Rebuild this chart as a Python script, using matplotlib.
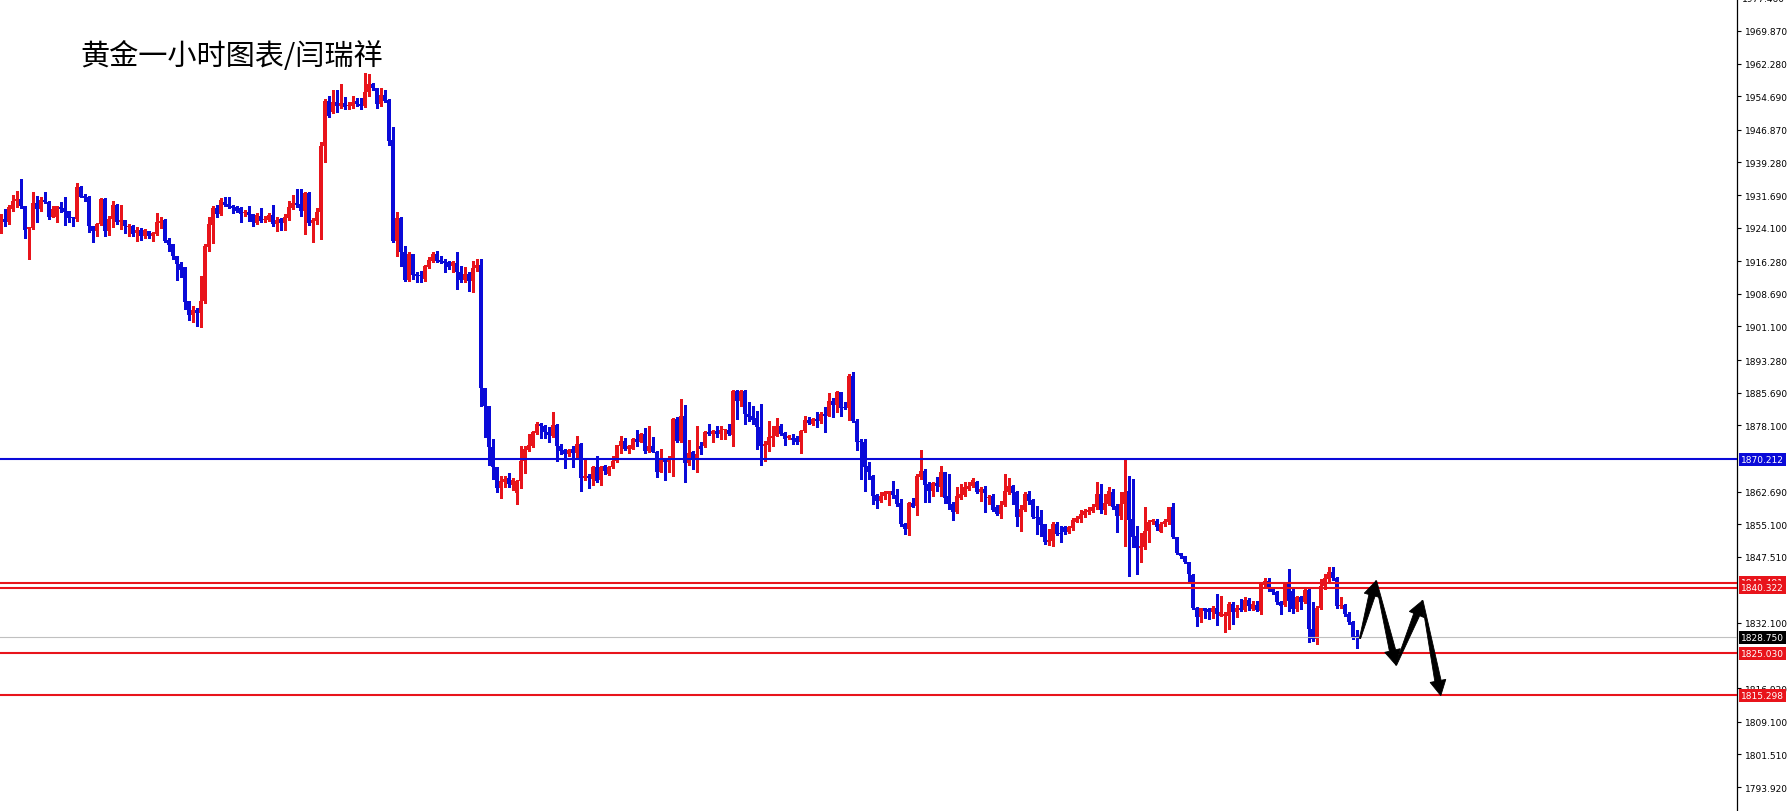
import matplotlib
matplotlib.use("Agg")
import matplotlib.pyplot as plt
import numpy as np
from matplotlib.patches import Polygon

plt.rcParams['font.family'] = ['DejaVu Sans']

# ---------------- data (gold, 1 hour candles) ----------------
opens = [
    1923.5, 1926.1, 1925.5, 1928.4, 1930.2, 1930.8, 1929.1, 1923.8, 1923.9, 1929.8,
    1928.4, 1930.6, 1930.0, 1926.5, 1926.5, 1929.0, 1928.6, 1927.9, 1926.6, 1926.1,
    1933.5, 1931.4, 1931.2, 1924.4, 1923.2, 1924.9, 1930.8, 1923.2, 1926.1, 1929.4,
    1925.3, 1925.9, 1924.3, 1924.5, 1922.8, 1923.6, 1922.1, 1923.2, 1922.1, 1922.6,
    1925.2, 1925.9, 1921.3, 1920.3, 1917.4, 1915.6, 1914.9, 1907.1, 1903.8, 1904.9,
    1904.2, 1907.1, 1919.7, 1924.7, 1928.6, 1927.3, 1930.0, 1929.6, 1929.1, 1928.8,
    1928.6, 1927.5, 1927.8, 1927.3, 1925.2, 1926.7, 1925.8, 1925.9, 1927.0, 1924.9,
    1926.1, 1925.1, 1926.3, 1928.7, 1929.8, 1929.6, 1928.0, 1932.2, 1925.2, 1925.7,
    1927.8, 1943.0, 1953.6, 1950.9, 1953.3, 1952.5, 1953.1, 1952.3, 1952.5, 1953.6,
    1952.9, 1952.3, 1955.6, 1957.5, 1956.5, 1952.9, 1955.0, 1953.9, 1944.6, 1921.1,
    1926.3, 1918.5, 1912.0, 1918.0, 1913.3, 1912.9, 1912.1, 1914.9, 1916.4, 1918.0,
    1916.6, 1916.4, 1916.2, 1915.1, 1915.9, 1913.8, 1912.0, 1913.3, 1911.7, 1914.7,
    1915.4, 1886.7, 1882.7, 1873.0, 1868.3, 1863.4, 1865.0, 1865.8, 1864.2, 1862.4,
    1865.2, 1869.9, 1872.4, 1873.2, 1876.3, 1878.4, 1878.0, 1876.6, 1875.7, 1878.2,
    1873.2, 1872.4, 1871.4, 1872.6, 1871.6, 1873.7, 1865.8, 1866.4, 1865.6, 1868.3,
    1865.4, 1868.6, 1866.8, 1868.3, 1869.9, 1873.4, 1874.5, 1872.6, 1872.7, 1874.9,
    1874.3, 1876.1, 1872.2, 1873.2, 1872.0, 1867.3, 1870.4, 1869.6, 1870.6, 1879.6,
    1874.5, 1880.3, 1869.3, 1871.8, 1870.4, 1873.4, 1873.2, 1876.6, 1876.1, 1876.8,
    1876.1, 1876.9, 1877.1, 1875.8, 1886.1, 1883.8, 1886.1, 1880.7, 1880.2, 1879.7,
    1877.6, 1873.2, 1873.5, 1875.1, 1875.7, 1877.9, 1876.3, 1875.1, 1875.1, 1875.1,
    1874.1, 1876.8, 1879.4, 1878.4, 1879.6, 1879.0, 1880.7, 1880.3, 1883.8, 1882.8,
    1885.8, 1882.3, 1882.1, 1889.6, 1879.2, 1874.3, 1874.1, 1868.6, 1866.4, 1861.9,
    1860.6, 1861.6, 1862.1, 1862.7, 1861.9, 1860.0, 1855.1, 1854.0, 1860.0, 1859.4,
    1866.0, 1867.5, 1864.4, 1862.7, 1864.7, 1863.7, 1867.2, 1861.6, 1859.8, 1858.0,
    1861.3, 1861.9, 1863.3, 1864.0, 1865.0, 1862.5, 1863.3, 1861.2, 1861.6, 1859.0,
    1857.5, 1859.5, 1862.5, 1864.0, 1862.5, 1856.7, 1858.5, 1862.1, 1860.8, 1856.8,
    1856.7, 1855.1, 1851.0, 1851.2, 1855.1, 1853.0, 1854.4, 1853.2, 1854.1, 1855.7,
    1856.3, 1857.2, 1857.9, 1858.2, 1859.0, 1862.1, 1858.5, 1859.8, 1862.5, 1859.4,
    1857.1, 1859.8, 1862.7, 1856.3, 1852.3, 1849.5, 1849.7, 1853.4, 1855.5, 1855.9,
    1853.3, 1855.1, 1855.5, 1859.0, 1852.0, 1848.4, 1847.6, 1846.2, 1843.3, 1835.7,
    1833.4, 1835.5, 1835.3, 1834.6, 1835.7, 1833.8, 1833.7, 1833.8, 1836.5, 1834.7,
    1835.7, 1835.2, 1837.5, 1835.3, 1836.3, 1834.9, 1840.9, 1841.9, 1840.0, 1839.2,
    1837.0, 1836.3, 1841.4, 1839.6, 1835.3, 1838.1, 1836.9, 1839.8, 1830.7, 1828.4,
    1835.7, 1840.6, 1842.3, 1844.0, 1842.5, 1836.0, 1836.3, 1834.2, 1832.4, 1829.1,
]
highs = [
    1927.3, 1928.4, 1929.4, 1931.7, 1932.6, 1935.4, 1929.2, 1924.3, 1932.3, 1931.5,
    1931.2, 1932.3, 1930.4, 1929.1, 1929.2, 1930.0, 1931.2, 1928.0, 1926.6, 1934.6,
    1933.7, 1931.9, 1931.5, 1924.5, 1925.2, 1930.9, 1930.9, 1926.9, 1930.4, 1929.6,
    1929.4, 1925.9, 1924.9, 1924.7, 1924.2, 1923.9, 1923.8, 1923.2, 1923.0, 1927.5,
    1926.5, 1926.1, 1921.8, 1920.3, 1917.4, 1916.0, 1914.9, 1907.1, 1905.9, 1905.3,
    1912.9, 1920.3, 1926.5, 1929.2, 1929.4, 1930.9, 1931.2, 1931.2, 1929.4, 1929.1,
    1928.8, 1928.3, 1929.1, 1927.3, 1927.5, 1928.6, 1926.7, 1927.5, 1929.4, 1926.5,
    1926.3, 1927.3, 1930.4, 1931.7, 1933.2, 1933.1, 1932.3, 1932.3, 1926.3, 1928.6,
    1944.0, 1954.0, 1954.7, 1956.2, 1956.2, 1957.5, 1954.4, 1953.4, 1954.7, 1954.2,
    1954.2, 1960.1, 1959.8, 1957.8, 1956.7, 1956.7, 1956.2, 1954.0, 1947.4, 1927.7,
    1926.5, 1919.9, 1918.4, 1918.0, 1913.7, 1914.1, 1915.4, 1917.2, 1918.5, 1918.7,
    1917.4, 1916.9, 1916.4, 1916.4, 1918.5, 1915.1, 1914.9, 1913.7, 1916.4, 1916.8,
    1916.9, 1886.7, 1882.7, 1874.9, 1868.3, 1866.4, 1866.2, 1867.0, 1865.8, 1865.4,
    1873.2, 1873.2, 1876.1, 1876.8, 1878.8, 1878.6, 1878.2, 1877.6, 1881.1, 1878.4,
    1873.7, 1872.7, 1872.6, 1873.2, 1875.7, 1874.0, 1870.3, 1866.8, 1868.6, 1871.0,
    1868.6, 1868.9, 1868.6, 1870.9, 1873.6, 1875.5, 1875.1, 1873.5, 1875.1, 1877.1,
    1876.3, 1877.4, 1878.0, 1875.3, 1872.2, 1872.7, 1870.6, 1870.9, 1879.7, 1880.0,
    1884.2, 1882.8, 1874.7, 1872.2, 1877.9, 1874.1, 1876.8, 1878.4, 1877.1, 1878.0,
    1878.0, 1877.2, 1878.4, 1886.2, 1886.2, 1886.2, 1886.2, 1883.5, 1882.7, 1881.5,
    1883.1, 1874.5, 1879.2, 1878.0, 1879.7, 1878.4, 1876.5, 1875.8, 1876.1, 1875.5,
    1877.1, 1880.3, 1880.0, 1879.7, 1881.1, 1881.3, 1882.3, 1885.6, 1884.4, 1886.1,
    1885.9, 1883.5, 1890.0, 1890.4, 1879.6, 1874.9, 1874.9, 1869.5, 1866.5, 1862.1,
    1862.5, 1862.9, 1862.9, 1865.2, 1863.3, 1860.9, 1855.3, 1860.2, 1861.1, 1866.8,
    1872.4, 1867.9, 1865.0, 1865.0, 1866.0, 1868.6, 1867.3, 1866.8, 1860.2, 1863.7,
    1864.4, 1864.8, 1865.0, 1865.8, 1865.2, 1863.7, 1864.0, 1861.9, 1862.1, 1859.5,
    1860.6, 1866.8, 1865.8, 1864.2, 1862.9, 1859.5, 1862.5, 1862.9, 1860.9, 1859.4,
    1858.5, 1855.2, 1854.0, 1855.5, 1855.5, 1854.6, 1854.6, 1854.6, 1856.5, 1856.9,
    1858.5, 1858.6, 1859.0, 1859.8, 1865.0, 1864.4, 1862.1, 1863.7, 1863.3, 1859.8,
    1862.5, 1870.1, 1866.2, 1865.6, 1854.6, 1853.0, 1859.0, 1856.1, 1856.3, 1856.3,
    1855.5, 1856.3, 1859.2, 1860.0, 1852.1, 1848.5, 1847.8, 1846.4, 1843.5, 1835.8,
    1835.7, 1835.7, 1835.7, 1836.1, 1838.8, 1838.4, 1834.7, 1836.9, 1836.9, 1836.3,
    1837.7, 1838.1, 1837.8, 1837.3, 1837.3, 1841.7, 1842.5, 1842.5, 1840.4, 1839.6,
    1837.3, 1841.6, 1844.7, 1840.0, 1838.3, 1838.3, 1840.2, 1840.2, 1837.1, 1836.1,
    1842.3, 1843.5, 1845.1, 1845.1, 1842.7, 1838.1, 1836.5, 1834.6, 1832.6, 1830.5,
]
lows = [
    1922.8, 1924.5, 1924.9, 1928.0, 1928.8, 1928.6, 1921.8, 1916.8, 1923.8, 1925.5,
    1928.0, 1929.8, 1926.1, 1926.5, 1925.5, 1927.7, 1924.7, 1925.3, 1924.4, 1925.7,
    1931.2, 1930.4, 1923.0, 1920.7, 1922.2, 1924.7, 1922.1, 1922.4, 1924.2, 1924.9,
    1923.8, 1922.8, 1922.2, 1922.1, 1921.1, 1921.3, 1921.8, 1921.6, 1921.1, 1922.4,
    1924.0, 1920.8, 1918.7, 1916.8, 1912.0, 1912.5, 1905.2, 1902.7, 1902.2, 1901.1,
    1900.9, 1906.6, 1918.6, 1920.5, 1926.5, 1927.0, 1929.1, 1928.6, 1927.5, 1927.7,
    1925.5, 1926.9, 1925.7, 1924.5, 1924.9, 1925.5, 1925.3, 1925.7, 1924.5, 1923.4,
    1923.6, 1923.6, 1925.9, 1928.4, 1928.8, 1926.9, 1922.6, 1924.7, 1920.7, 1924.9,
    1921.5, 1939.3, 1949.8, 1950.8, 1950.9, 1951.9, 1951.7, 1951.7, 1951.9, 1952.5,
    1951.7, 1952.1, 1954.8, 1956.2, 1951.9, 1952.3, 1953.4, 1943.3, 1920.7, 1917.4,
    1915.2, 1911.7, 1911.7, 1912.1, 1911.4, 1911.4, 1911.7, 1914.6, 1916.0, 1916.0,
    1915.9, 1913.7, 1914.5, 1913.7, 1909.8, 1911.5, 1911.5, 1909.4, 1909.2, 1914.1,
    1882.7, 1875.3, 1868.9, 1865.6, 1862.5, 1861.3, 1863.7, 1863.7, 1863.1, 1859.8,
    1863.4, 1867.0, 1872.2, 1873.0, 1876.1, 1875.1, 1875.1, 1874.1, 1875.3, 1869.9,
    1871.4, 1868.1, 1871.0, 1868.3, 1870.3, 1862.9, 1865.4, 1863.4, 1864.2, 1865.0,
    1864.2, 1866.8, 1866.5, 1868.1, 1869.5, 1871.6, 1872.4, 1871.6, 1872.6, 1873.2,
    1874.1, 1871.6, 1871.8, 1871.8, 1866.0, 1867.2, 1865.4, 1867.3, 1866.4, 1874.1,
    1874.3, 1864.8, 1868.9, 1868.0, 1867.2, 1871.4, 1873.0, 1875.8, 1874.1, 1875.3,
    1874.9, 1874.9, 1875.8, 1873.2, 1879.6, 1882.5, 1878.4, 1879.2, 1878.4, 1872.6,
    1868.9, 1869.9, 1872.2, 1873.4, 1875.5, 1875.8, 1873.5, 1874.9, 1873.7, 1873.7,
    1871.6, 1876.6, 1878.4, 1878.2, 1877.6, 1878.6, 1876.6, 1880.2, 1880.0, 1881.3,
    1880.2, 1881.9, 1879.4, 1878.8, 1872.4, 1865.6, 1862.7, 1865.6, 1859.8, 1858.8,
    1860.2, 1860.9, 1859.5, 1861.1, 1859.4, 1854.7, 1852.8, 1852.6, 1859.0, 1857.2,
    1865.6, 1860.2, 1860.2, 1861.6, 1862.9, 1861.6, 1860.0, 1858.6, 1856.1, 1857.7,
    1860.9, 1861.6, 1863.1, 1863.7, 1862.3, 1860.6, 1858.0, 1859.8, 1858.2, 1857.2,
    1856.5, 1859.4, 1862.1, 1859.8, 1854.6, 1853.6, 1858.2, 1859.8, 1856.5, 1852.8,
    1852.4, 1850.5, 1850.3, 1850.1, 1852.6, 1851.0, 1852.8, 1853.0, 1853.8, 1855.5,
    1855.5, 1856.7, 1857.5, 1858.0, 1858.6, 1857.7, 1857.5, 1859.5, 1858.6, 1853.3,
    1856.3, 1850.1, 1843.1, 1849.7, 1843.5, 1846.2, 1849.3, 1851.0, 1855.1, 1853.8,
    1853.2, 1854.7, 1855.1, 1851.8, 1848.2, 1847.2, 1846.1, 1841.7, 1835.3, 1831.5,
    1832.4, 1833.2, 1833.0, 1833.2, 1831.6, 1833.7, 1829.9, 1830.7, 1831.9, 1833.4,
    1834.9, 1834.9, 1835.2, 1835.2, 1834.9, 1834.2, 1840.8, 1839.6, 1838.8, 1836.5,
    1834.2, 1836.0, 1834.9, 1834.4, 1834.9, 1835.3, 1836.8, 1827.6, 1828.0, 1827.2,
    1835.3, 1840.0, 1841.9, 1842.2, 1835.7, 1835.5, 1833.8, 1831.9, 1828.4, 1826.2,
]
closes = [
    1925.9, 1925.4, 1928.8, 1930.4, 1930.8, 1929.1, 1923.6, 1924.2, 1929.8, 1928.4,
    1930.6, 1930.0, 1926.5, 1928.4, 1929.1, 1928.4, 1927.8, 1926.4, 1926.3, 1933.5,
    1931.3, 1931.0, 1924.5, 1923.2, 1924.9, 1930.8, 1923.2, 1926.1, 1929.4, 1925.3,
    1925.9, 1924.4, 1924.5, 1922.6, 1923.6, 1922.1, 1923.6, 1922.1, 1922.8, 1925.5,
    1925.7, 1921.0, 1920.0, 1917.4, 1915.6, 1914.3, 1906.9, 1903.8, 1904.9, 1904.2,
    1907.1, 1919.9, 1924.9, 1928.6, 1927.3, 1930.6, 1929.4, 1928.8, 1928.6, 1928.0,
    1927.3, 1927.8, 1927.0, 1925.4, 1927.0, 1925.7, 1926.1, 1927.0, 1924.9, 1925.9,
    1925.1, 1926.5, 1928.8, 1929.8, 1929.4, 1928.0, 1932.2, 1925.2, 1925.9, 1927.7,
    1943.0, 1953.6, 1950.1, 1953.4, 1952.5, 1953.1, 1952.1, 1952.6, 1953.4, 1952.9,
    1952.3, 1955.6, 1957.5, 1956.5, 1952.9, 1955.0, 1953.6, 1944.3, 1921.1, 1926.3,
    1918.5, 1912.0, 1918.0, 1913.1, 1912.8, 1912.8, 1915.1, 1916.6, 1918.0, 1916.4,
    1916.2, 1915.9, 1914.9, 1916.0, 1913.7, 1912.0, 1913.3, 1911.7, 1914.6, 1915.4,
    1886.8, 1882.7, 1873.0, 1868.3, 1863.4, 1865.2, 1865.6, 1864.4, 1865.4, 1865.2,
    1869.9, 1872.7, 1873.5, 1876.6, 1878.4, 1877.9, 1876.5, 1875.8, 1878.2, 1873.2,
    1872.2, 1871.4, 1872.4, 1871.6, 1873.7, 1865.8, 1866.4, 1865.8, 1868.3, 1865.2,
    1868.3, 1867.5, 1868.3, 1869.9, 1873.5, 1874.5, 1872.6, 1873.2, 1874.9, 1874.3,
    1876.1, 1872.2, 1873.2, 1872.0, 1867.2, 1870.3, 1869.6, 1870.6, 1879.6, 1874.5,
    1880.3, 1869.3, 1871.6, 1870.4, 1871.4, 1872.6, 1876.6, 1876.1, 1876.8, 1876.1,
    1877.1, 1877.1, 1876.1, 1886.1, 1883.8, 1886.1, 1880.7, 1880.0, 1879.4, 1877.6,
    1873.2, 1873.7, 1875.3, 1875.7, 1878.0, 1876.1, 1874.9, 1875.7, 1874.7, 1874.1,
    1876.8, 1879.4, 1878.6, 1879.6, 1879.0, 1880.7, 1880.3, 1883.8, 1882.8, 1885.8,
    1882.1, 1882.1, 1889.6, 1879.2, 1874.1, 1874.1, 1868.3, 1867.3, 1861.7, 1860.6,
    1861.7, 1862.5, 1862.7, 1861.9, 1859.8, 1855.1, 1854.0, 1860.0, 1859.2, 1866.4,
    1867.5, 1864.2, 1862.7, 1864.7, 1863.9, 1867.2, 1861.1, 1859.8, 1858.0, 1861.6,
    1862.1, 1863.7, 1864.0, 1865.4, 1862.5, 1863.3, 1862.3, 1861.5, 1858.5, 1857.5,
    1859.5, 1862.7, 1864.0, 1862.3, 1856.7, 1858.6, 1862.1, 1860.6, 1856.7, 1856.5,
    1854.9, 1851.0, 1851.5, 1855.1, 1852.8, 1852.8, 1853.2, 1854.4, 1856.1, 1856.5,
    1857.5, 1858.2, 1858.5, 1859.2, 1862.1, 1858.5, 1860.0, 1862.7, 1859.0, 1857.1,
    1859.8, 1862.5, 1856.1, 1852.0, 1849.5, 1849.9, 1853.6, 1855.5, 1856.1, 1854.4,
    1855.1, 1855.9, 1859.0, 1852.0, 1848.4, 1847.6, 1846.2, 1843.5, 1835.5, 1833.4,
    1835.5, 1834.9, 1834.7, 1835.5, 1834.2, 1834.7, 1834.2, 1836.5, 1834.7, 1835.7,
    1835.2, 1837.5, 1836.1, 1836.5, 1835.2, 1841.6, 1841.9, 1840.0, 1839.2, 1836.9,
    1836.1, 1841.4, 1837.3, 1835.3, 1838.1, 1837.1, 1839.8, 1830.7, 1828.4, 1835.7,
    1840.8, 1842.5, 1843.9, 1842.5, 1836.1, 1836.3, 1834.2, 1832.3, 1828.5, 1828.75,
]

blue_level = 1870.212
red_levels = [1841.481, 1840.322, 1825.030, 1815.298]
last_price = 1828.750

# scale labels that are not hidden behind the price boxes
ytick_vals = [1969.870, 1962.280, 1954.690, 1946.870, 1939.280, 1931.690, 1924.100,
              1916.280, 1908.690, 1901.100, 1893.280, 1885.690, 1878.100,
              1862.690, 1855.100, 1847.510, 1832.100, 1816.920,
              1809.100, 1801.510, 1793.920]
top_tick = 1977.460

# projected path (candle index, price)
path_x = [339.8, 343.8, 348.8, 355.4, 360.0]
path_y = [1828.5, 1841.9, 1822.3, 1837.3, 1815.2]

title = "黄金一小时图表/闫瑞祥"

RED = '#e8141b'
BLUE = '#0a0ad8'

# ---------------- figure ----------------
W, H = 1787, 812
fig = plt.figure(figsize=(W / 100, H / 100), dpi=100)
fig.patch.set_facecolor('white')
ax = fig.add_axes([0, 0, 1737 / W, 1])
ax.set_facecolor('white')

o = np.array(opens)
hi = np.array(highs)
lo = np.array(lows)
c = np.array(closes)
x = np.arange(len(o))
col = np.where(c >= o, RED, BLUE)

ax.vlines(x, lo, hi, colors=col, lw=0.75, antialiased=False, zorder=2)
ax.bar(x, np.maximum(np.abs(c - o), 0.25), bottom=np.minimum(o, c), width=0.72,
       color=col, linewidth=0, antialiased=False, zorder=2)

ax.set_xlim(-0.2, 434.05)
ax.set_ylim(1788.35, 1977.3)

# horizontal levels
ax.axhline(last_price, color='#c0c0c0', lw=0.8, zorder=3)
ax.axhline(blue_level, color=BLUE, lw=1.5, zorder=3)
for lv in red_levels:
    ax.axhline(lv, color=RED, lw=1.5, zorder=3)

# right price scale
ax.yaxis.tick_right()
ax.set_yticks(ytick_vals)
ax.set_yticklabels([f"{v:.3f}" for v in ytick_vals])
ax.tick_params(axis='y', length=3, width=0.8, pad=2.5, labelsize=6.5, colors='black')
ax.set_xticks([])
for s in ['left', 'top', 'bottom']:
    ax.spines[s].set_visible(False)
ax.spines['right'].set_linewidth(0.9)
ax.text(1.0026, top_tick, f"{top_tick:.3f}", transform=ax.get_yaxis_transform(),
        ha='left', va='center', fontsize=6.5, clip_on=False)


def price_box(val, fc):
    ax.text(1.0024, val, f"{val:.3f}", transform=ax.get_yaxis_transform(),
            ha='left', va='center', fontsize=6.5, color='white', zorder=6, clip_on=False,
            bbox=dict(boxstyle='square,pad=0.22', fc=fc, ec='none'))


price_box(blue_level, BLUE)
for lv in red_levels:
    price_box(lv, RED)
price_box(last_price, 'black')


# arrows, built in pixel space so the heads keep their shape
def draw_arrow(p0, p1, head_len=15, head_w=8, shaft_w=3.2):
    a = ax.transData.transform(p0)
    b = ax.transData.transform(p1)
    d = b - a
    u = d / np.hypot(*d)
    n = np.array([-u[1], u[0]])
    base = b - u * head_len
    pts = [a + n * 0.6, base + n * shaft_w, base + n * head_w, b,
           base - n * head_w, base - n * shaft_w, a - n * 0.6]
    pts = ax.transData.inverted().transform(np.array(pts))
    ax.add_patch(Polygon(pts, closed=True, fc='black', ec='black', lw=0.6,
                         zorder=7, clip_on=False))


for k in range(len(path_x) - 1):
    draw_arrow((path_x[k], path_y[k]), (path_x[k + 1], path_y[k + 1]))

fig.text(80 / W, 1 - 57 / H, title, fontsize=21, ha='left', va='center',
         family=['Noto Sans CJK SC', 'DejaVu Sans'], color='black')

fig.savefig('out.png', dpi=100, facecolor='white')
